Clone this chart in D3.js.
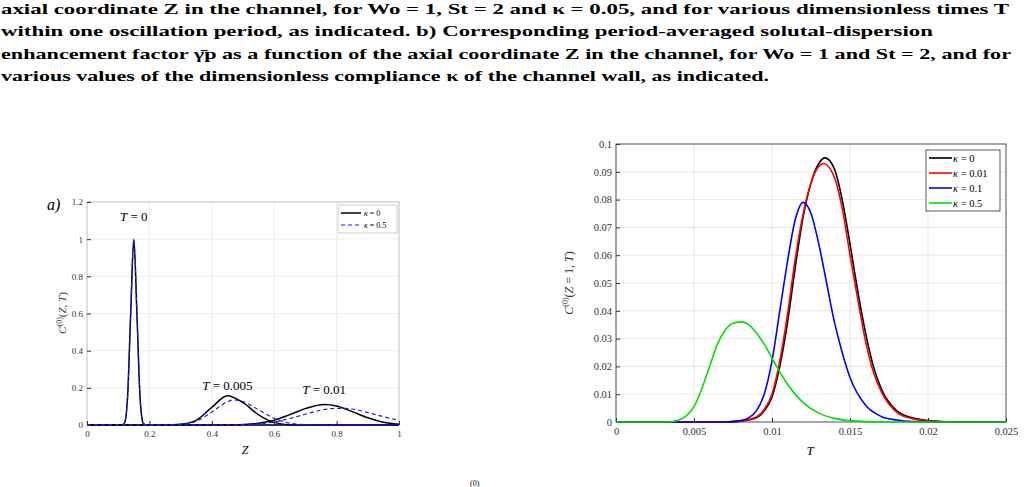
<!DOCTYPE html>
<html><head><meta charset="utf-8">
<script src="https://cdn.jsdelivr.net/npm/d3@7"></script>
<style>body{margin:0;background:#fff}svg{display:block}</style>
</head><body>
<svg id="c" width="1027" height="487"></svg>
<script>
// ---- data ----
const captionLines=[
 "axial coordinate Z in the channel, for Wo = 1, St = 2 and κ = 0.05, and for various dimensionless times T",
 "within one oscillation period, as indicated. b) Corresponding period-averaged solutal-dispersion",
 "enhancement factor γ̄p as a function of the axial coordinate Z in the channel, for Wo = 1 and St = 2, and for",
 "various values of the dimensionless compliance κ of the channel wall, as indicated."];
const captionWidths=[1008,932,1010,768];
const leftXTicks=[0,0.2,0.4,0.6,0.8,1];
const leftYTicks=[0,0.2,0.4,0.6,0.8,1,1.2];
const A_T0_k0=[[0,0],[0.11,0],[0.12,0.01],[0.13,0.15],[0.14,0.6],[0.15,1],[0.16,0.6],[0.17,0.15],[0.18,0.01],[0.19,0],[1,0]];
const A_T0_k05=[[0,0],[0.11,0],[0.12,0.01],[0.13,0.15],[0.14,0.6],[0.15,1],[0.16,0.6],[0.17,0.15],[0.18,0.01],[0.19,0],[1,0]];
const A_T1_k0=[[0,0],[0.25,0],[0.3,0.004],[0.35,0.025],[0.4,0.095],[0.45,0.157],[0.5,0.12],[0.55,0.055],[0.6,0.014],[0.65,0.002],[0.7,0],[1,0]];
const A_T1_k05=[[0,0],[0.27,0],[0.3,0.003],[0.35,0.02],[0.4,0.07],[0.45,0.125],[0.47,0.135],[0.5,0.126],[0.55,0.082],[0.6,0.036],[0.65,0.01],[0.7,0.002],[0.75,0],[1,0]];
const A_T2_k0=[[0,0],[0.45,0],[0.5,0.003],[0.55,0.01],[0.6,0.026],[0.65,0.056],[0.7,0.088],[0.76,0.11],[0.8,0.102],[0.85,0.072],[0.9,0.039],[0.95,0.015],[1,0.004]];
const A_T2_k05=[[0,0],[0.45,0],[0.5,0.002],[0.55,0.006],[0.6,0.017],[0.65,0.035],[0.7,0.058],[0.75,0.08],[0.8,0.09],[0.85,0.086],[0.9,0.067],[0.95,0.045],[1,0.025]];
const leftLabels=[["T = 0",0.15,1.1],["T = 0.005",0.45,0.19],["T = 0.01",0.76,0.165]];
const rightXTicks=[0,0.005,0.01,0.015,0.02,0.025];
const rightYTicks=[0,0.01,0.02,0.03,0.04,0.05,0.06,0.07,0.08,0.09,0.1];
const B_k0=[[0,0],[0.007,0],[0.008,0.0003],[0.009,0.0015],[0.0095,0.004],[0.01,0.009],[0.0105,0.02],[0.011,0.036],[0.0115,0.056],[0.012,0.074],[0.0125,0.086],[0.013,0.093],[0.0134,0.095],[0.014,0.091],[0.0145,0.08],[0.015,0.064],[0.0155,0.047],[0.016,0.032],[0.0165,0.02],[0.017,0.012],[0.018,0.004],[0.019,0.0015],[0.02,0.0005],[0.021,0.0001],[0.025,0]];
const B_k001=[[0,0],[0.007,0],[0.008,0.0004],[0.009,0.0018],[0.0095,0.0045],[0.01,0.01],[0.0105,0.022],[0.011,0.039],[0.0115,0.059],[0.012,0.075],[0.0125,0.086],[0.013,0.092],[0.0133,0.093],[0.014,0.088],[0.0145,0.077],[0.015,0.06],[0.0155,0.044],[0.016,0.029],[0.0165,0.018],[0.017,0.011],[0.018,0.0035],[0.019,0.0012],[0.02,0.0004],[0.021,0.0001],[0.025,0]];
const B_k01=[[0,0],[0.007,0],[0.008,0.0005],[0.0085,0.0015],[0.009,0.004],[0.0095,0.01],[0.01,0.022],[0.0105,0.04],[0.011,0.058],[0.0115,0.073],[0.012,0.079],[0.0125,0.075],[0.013,0.064],[0.0135,0.05],[0.014,0.036],[0.0145,0.025],[0.015,0.016],[0.016,0.006],[0.017,0.002],[0.018,0.0007],[0.019,0.0002],[0.025,0]];
const B_k05=[[0,0],[0.003,0],[0.0035,0.0001],[0.004,0.0006],[0.0045,0.0022],[0.005,0.0055],[0.0055,0.012],[0.006,0.02],[0.0065,0.028],[0.007,0.033],[0.0075,0.0355],[0.0081,0.036],[0.0085,0.035],[0.009,0.032],[0.0095,0.028],[0.01,0.023],[0.0105,0.018],[0.011,0.0135],[0.012,0.007],[0.013,0.0032],[0.014,0.0013],[0.015,0.0005],[0.016,0.0002],[0.017,0],[0.025,0]];
// ---- drawing ----
const svg=d3.select("#c");
const serif="'Liberation Serif','DejaVu Serif',serif";
const cap=svg.append("g").attr("font-family",serif).attr("font-weight","bold").attr("font-size",15.5);
captionLines.forEach((t,i)=>cap.append("text").attr("x",1).attr("y",14+i*22.3).attr("textLength",captionWidths[i]).attr("lengthAdjust","spacingAndGlyphs").text(t));
svg.append("text").attr("x",470).attr("y",486).attr("font-family",serif).attr("font-size",8).text("(0)");

function panel(o){
  const x=d3.scaleLinear().domain(o.xd).range([o.l,o.r]);
  const y=d3.scaleLinear().domain(o.yd).range([o.b,o.t]);
  const g=svg.append("g").attr("font-family",serif);
  g.append("g").selectAll("line").data(o.xt).join("line").attr("x1",d=>x(d)).attr("x2",d=>x(d)).attr("y1",o.t).attr("y2",o.b).attr("stroke",o.grid).attr("stroke-width",0.7);
  g.append("g").selectAll("line").data(o.yt).join("line").attr("y1",d=>y(d)).attr("y2",d=>y(d)).attr("x1",o.l).attr("x2",o.r).attr("stroke",o.grid).attr("stroke-width",0.7);
  g.append("rect").attr("x",o.l).attr("y",o.t).attr("width",o.r-o.l).attr("height",o.b-o.t).attr("fill","none").attr("stroke",o.box).attr("stroke-width",0.8);
  const xa=g.append("g").attr("transform",`translate(0,${o.b})`).call(d3.axisBottom(x).tickValues(o.xt).tickFormat(d=>String(+d.toFixed(4))).tickSize(-4).tickPadding(6));
  const ya=g.append("g").attr("transform",`translate(${o.l},0)`).call(d3.axisLeft(y).tickValues(o.yt).tickFormat(d=>String(+d.toFixed(4))).tickSize(-4).tickPadding(4));
  [xa,ya].forEach(a=>{a.select(".domain").remove();a.selectAll("text").attr("font-family",serif).attr("font-size",o.fs).attr("fill","#333");a.selectAll("line").attr("stroke","#333");});
  const line=d3.line().x(d=>x(d[0])).y(d=>y(d[1])).curve(d3.curveMonotoneX);
  o.series.forEach(s=>g.append("path").attr("d",line(s.d)).attr("fill","none").attr("stroke",s.c).attr("stroke-width",s.w).attr("stroke-dasharray",s.dash||null));
  return {x,y,g};
}
const L=panel({l:87,r:399,t:202,b:425,xd:[0,1],yd:[0,1.2],xt:leftXTicks,yt:leftYTicks,grid:"#e6e6e6",box:"#bbb",fs:9,
 series:[{d:A_T0_k0,c:"#000",w:1.5},{d:A_T1_k0,c:"#000",w:1.5},{d:A_T2_k0,c:"#000",w:1.5},
  {d:A_T0_k05,c:"#1a1aff",w:1.2,dash:"4,3"},{d:A_T1_k05,c:"#1a1aff",w:1.2,dash:"4,3"},{d:A_T2_k05,c:"#1a1aff",w:1.2,dash:"4,3"}]});
leftLabels.forEach(([t,a,b])=>L.g.append("text").attr("x",L.x(a)).attr("y",L.y(b)).attr("text-anchor","middle").attr("font-size",13).html(t.replace("T","<tspan font-style='italic'>T</tspan>")));
L.g.append("text").attr("x",245).attr("y",454).attr("text-anchor","middle").attr("font-size",12).attr("font-style","italic").text("Z");
L.g.append("text").attr("transform","translate(66,313) rotate(-90)").attr("text-anchor","middle").attr("font-size",11).attr("fill","#333").html("<tspan font-style='italic'>C</tspan><tspan dy='-4' font-size='8'>(0)</tspan><tspan dy='4'>(</tspan><tspan font-style='italic'>Z</tspan>, <tspan font-style='italic'>T</tspan>)");
L.g.append("text").attr("x",47).attr("y",210).attr("font-size",16).attr("font-style","italic").text("a)");
const lg=L.g.append("g");
lg.append("rect").attr("x",338).attr("y",205).attr("width",59).attr("height",28).attr("fill","#fff").attr("stroke","#bbb").attr("stroke-width",0.7);
lg.append("line").attr("x1",341).attr("x2",361).attr("y1",213).attr("y2",213).attr("stroke","#000").attr("stroke-width",1.5);
lg.append("line").attr("x1",341).attr("x2",361).attr("y1",225).attr("y2",225).attr("stroke","#1a1aff").attr("stroke-width",1.2).attr("stroke-dasharray","4,3");
lg.append("text").attr("x",364).attr("y",216).attr("font-size",8).html("<tspan font-style='italic'>κ</tspan> = 0");
lg.append("text").attr("x",364).attr("y",228).attr("font-size",8).html("<tspan font-style='italic'>κ</tspan> = 0.5");

const R=panel({l:616,r:1006,t:144,b:422,xd:[0,0.025],yd:[0,0.1],xt:rightXTicks,yt:rightYTicks,grid:"#dcdcdc",box:"#333",fs:10.5,
 series:[{d:B_k0,c:"#000",w:1.6},{d:B_k001,c:"#ff0000",w:1.6},{d:B_k01,c:"#0000ff",w:1.6},{d:B_k05,c:"#00e000",w:1.6}]});
R.g.append("text").attr("x",810).attr("y",455).attr("text-anchor","middle").attr("font-size",13).attr("font-style","italic").text("T");
R.g.append("text").attr("transform","translate(573,283) rotate(-90)").attr("text-anchor","middle").attr("font-size",12).attr("fill","#333").html("<tspan font-style='italic'>C</tspan><tspan dy='-5' font-size='8'>(0)</tspan><tspan dy='5'>(</tspan><tspan font-style='italic'>Z</tspan> = 1, <tspan font-style='italic'>T</tspan>)");
const rg=R.g.append("g");
rg.append("rect").attr("x",926).attr("y",150).attr("width",74).attr("height",61).attr("fill","#fff").attr("stroke","#333").attr("stroke-width",0.8);
[["0","#000"],["0.01","#ff0000"],["0.1","#0000ff"],["0.5","#00e000"]].forEach(([t,c],i)=>{
 rg.append("line").attr("x1",929).attr("x2",952).attr("y1",158+i*15).attr("y2",158+i*15).attr("stroke",c).attr("stroke-width",1.6);
 rg.append("text").attr("x",953).attr("y",162+i*15).attr("font-size",10.5).html("<tspan font-style='italic'>κ</tspan> = "+t);
});
</script>
</body></html>
